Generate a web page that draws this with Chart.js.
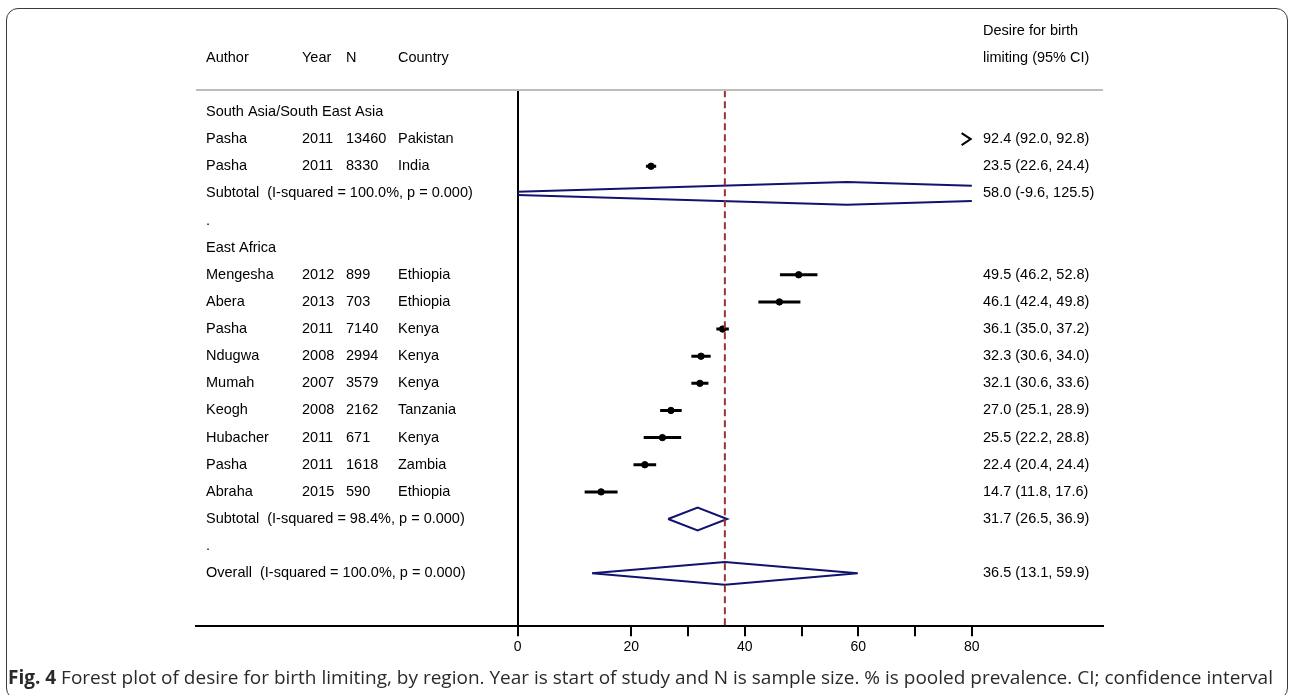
<!DOCTYPE html>
<html>
<head>
<meta charset="utf-8">
<script src="https://cdn.jsdelivr.net/npm/chart.js@4"></script>
<style>
  body { margin: 0; background: #fff; }
  #frame {
    position: absolute; left: 6px; top: 8px; width: 1282px; height: 692px;
    box-sizing: border-box; border: 1.5px solid #3a3a3a; border-radius: 12px;
  }
  #wrap { position: absolute; left: 0; top: 0; width: 1289px; height: 695px; }
  #caption {
    position: absolute; left: 8px; top: 664px; white-space: nowrap;
    font-family: "Open Sans", sans-serif; font-size: 19px; color: #2a2a2a;
  }
</style>
</head>
<body>
<div id="frame"></div>
<div id="wrap"><canvas id="forest" width="1289" height="695"></canvas></div>
<div id="caption"><b>Fig. 4</b> Forest plot of desire for birth limiting, by region. Year is start of study and N is sample size. % is pooled prevalence. CI; confidence interval</div>
<script>
// individual studies
const studyAuthor = ["Pasha", "Pasha", "Mengesha", "Abera", "Pasha", "Ndugwa", "Mumah", "Keogh", "Hubacher", "Pasha", "Abraha"];
const studyYear = [2011, 2011, 2012, 2013, 2011, 2008, 2007, 2008, 2011, 2011, 2015];
const studyN = [13460, 8330, 899, 703, 7140, 2994, 3579, 2162, 671, 1618, 590];
const studyCountry = ["Pakistan", "India", "Ethiopia", "Ethiopia", "Kenya", "Kenya", "Kenya", "Tanzania", "Kenya", "Zambia", "Ethiopia"];
const studyEst = [92.4, 23.5, 49.5, 46.1, 36.1, 32.3, 32.1, 27.0, 25.5, 22.4, 14.7];
const studyLo = [92.0, 22.6, 46.2, 42.4, 35.0, 30.6, 30.6, 25.1, 22.2, 20.4, 11.8];
const studyHi = [92.8, 24.4, 52.8, 49.8, 37.2, 34.0, 33.6, 28.9, 28.8, 24.4, 17.6];
const studyRow = [1, 2, 6, 7, 8, 9, 10, 11, 12, 13, 14];

// pooled estimates
const poolLabel = ["Subtotal  (I-squared = 100.0%, p = 0.000)", "Subtotal  (I-squared = 98.4%, p = 0.000)", "Overall  (I-squared = 100.0%, p = 0.000)"];
const poolEst = [58.0, 31.7, 36.5];
const poolLo = [-9.6, 26.5, 13.1];
const poolHi = [125.5, 36.9, 59.9];
const poolRow = [3, 15, 17];

const groupLabel = ["South Asia/South East Asia", "East Africa"];
const groupRow = [0, 5];
const spacerRow = [4, 16];

const xTicks = [0, 20, 30, 40, 50, 60, 70, 80];
const xTickLabels = [0, 20, 40, 60, 80];
const plotMin = 0, plotMax = 80; // range where marks are drawn
const overallEst = poolEst[2];

const NAVY = "#121270";
const RED = "#9a3434";

// clip a polyline (x increasing) to [a, b]
function clipPath(pts, a, b) {
    const out = [];
    for (let i = 0; i < pts.length; i++) {
        const p = pts[i];
        if (i > 0) {
            const q = pts[i - 1];
            [a, b].forEach(edge => {
                if ((q.x - edge) * (p.x - edge) < 0) {
                    const t = (edge - q.x) / (p.x - q.x);
                    out.push({ x: edge, y: q.y + t * (p.y - q.y) });
                }
            });
        }
        if (p.x >= a && p.x <= b) out.push(p);
    }
    return out;
}

const datasets = [];
const h = 0.42;

// overall reference line
datasets.push({
    data: [{ x: overallEst, y: -0.8 }, { x: overallEst, y: 18.95 }],
    showLine: true, borderColor: RED, borderWidth: 2, borderDash: [7, 4], pointRadius: 0
});

// study confidence intervals
studyRow.forEach((r, i) => {
    const seg = clipPath([{ x: studyLo[i], y: r }, { x: studyHi[i], y: r }], plotMin, plotMax);
    if (seg.length > 1) {
        datasets.push({ data: seg, showLine: true, borderColor: "#000", borderWidth: 3, pointRadius: 0 });
    }
    if (studyHi[i] > plotMax) {
        // off-scale arrow
        datasets.push({
            data: [{ x: plotMax - 1.8, y: r - 0.22 }, { x: plotMax - 0.2, y: r }, { x: plotMax - 1.8, y: r + 0.22 }],
            showLine: true, borderColor: "#000", borderWidth: 2, pointRadius: 0
        });
    }
});

// study point estimates
datasets.push({
    data: studyRow.map((r, i) => ({ x: studyEst[i], y: r })).filter(p => p.x <= plotMax),
    pointRadius: 3.2, pointBackgroundColor: "#000", pointBorderColor: "#000", showLine: false
});

// pooled diamonds
poolRow.forEach((r, i) => {
    const upper = clipPath([{ x: poolLo[i], y: r }, { x: poolEst[i], y: r - h }, { x: poolHi[i], y: r }], plotMin, plotMax);
    const lower = clipPath([{ x: poolLo[i], y: r }, { x: poolEst[i], y: r + h }, { x: poolHi[i], y: r }], plotMin, plotMax);
    const clipped = poolLo[i] < plotMin || poolHi[i] > plotMax;
    const pts = clipped ? [...upper, { x: null, y: null }, ...lower] : [...upper, ...lower.reverse()];
    datasets.push({ data: pts, showLine: true, borderColor: NAVY, borderWidth: 2, pointRadius: 0, spanGaps: false });
});

const FONT = '"Liberation Sans", Arial, sans-serif';

const textPlugin = {
    id: "forestText",
    afterDraw(chart) {
        const c = chart.ctx;
        const y = chart.scales.y;
        const area = chart.chartArea;
        c.save();
        // header rule
        c.strokeStyle = "#bdbdbd";
        c.lineWidth = 2;
        c.beginPath();
        c.moveTo(area.left, area.top);
        c.lineTo(area.right, area.top);
        c.stroke();

        c.fillStyle = "#000";
        c.font = "14.5px " + FONT;
        c.textBaseline = "middle";
        c.textAlign = "left";
        const colAuthor = 206, colYear = 302, colN = 346, colCountry = 398, colEst = 983;

        c.fillText("Author", colAuthor, 58);
        c.fillText("Year", colYear, 58);
        c.fillText("N", colN, 58);
        c.fillText("Country", colCountry, 58);
        c.fillText("Desire for birth", colEst, 31);
        c.fillText("limiting (95% CI)", colEst, 58);

        groupRow.forEach((r, i) => c.fillText(groupLabel[i], colAuthor, y.getPixelForValue(r)));
        spacerRow.forEach(r => c.fillText(".", colAuthor, y.getPixelForValue(r)));
        studyRow.forEach((r, i) => {
            const py = y.getPixelForValue(r);
            c.fillText(studyAuthor[i], colAuthor, py);
            c.fillText(String(studyYear[i]), colYear, py);
            c.fillText(String(studyN[i]), colN, py);
            c.fillText(studyCountry[i], colCountry, py);
            c.fillText(`${studyEst[i].toFixed(1)} (${studyLo[i].toFixed(1)}, ${studyHi[i].toFixed(1)})`, colEst, py);
        });
        poolRow.forEach((r, i) => {
            const py = y.getPixelForValue(r);
            c.fillText(poolLabel[i], colAuthor, py);
            c.fillText(`${poolEst[i].toFixed(1)} (${poolLo[i].toFixed(1)}, ${poolHi[i].toFixed(1)})`, colEst, py);
        });
        c.restore();
    }
};

new Chart(document.getElementById("forest"), {
    type: "scatter",
    data: { datasets: datasets },
    options: {
        responsive: false,
        animation: false,
        layout: { padding: { left: 196, right: 186, top: 90, bottom: 36 } },
        plugins: { legend: { display: false }, tooltip: { enabled: false } },
        scales: {
            x: {
                type: "linear",
                min: -56.65,
                max: 103.1,
                afterBuildTicks: scale => { scale.ticks = xTicks.map(v => ({ value: v })); },
                ticks: {
                    color: "#000",
                    font: { family: FONT, size: 14 },
                    padding: 3,
                    autoSkip: false,
                    maxRotation: 0,
                    callback: v => xTickLabels.includes(v) ? String(v) : ""
                },
                grid: {
                    drawOnChartArea: true,
                    color: ctx => (ctx.tick && ctx.tick.value === 0) ? "#000" : "rgba(0,0,0,0)",
                    tickColor: "#000",
                    tickLength: 10,
                    lineWidth: 2
                },
                border: { color: "#000", width: 2 }
            },
            y: {
                type: "linear",
                display: false,
                reverse: true,
                min: -0.81,
                max: 18.95
            }
        }
    },
    plugins: [textPlugin]
});
</script>
</body>
</html>
